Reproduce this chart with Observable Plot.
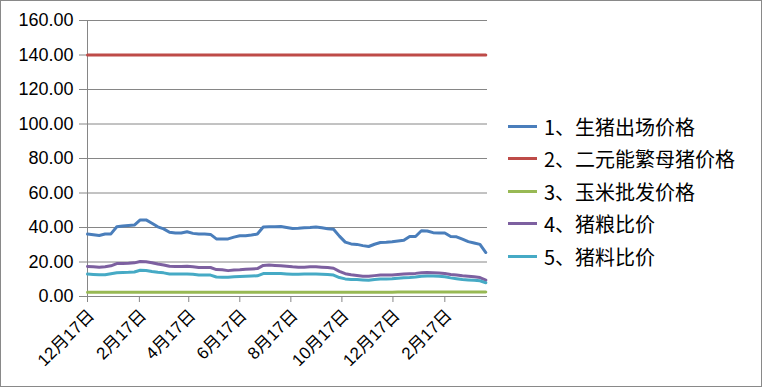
<!DOCTYPE html>
<html>
<head>
<meta charset="utf-8">
<script src="https://cdn.jsdelivr.net/npm/d3@7"></script>
<script src="https://cdn.jsdelivr.net/npm/@observablehq/plot@0.6"></script>
<style>
  body { margin: 0; background: #fff; }
  #wrap { position: relative; width: 762px; height: 387px; overflow: hidden; background: #fff; }
  #border { position: absolute; left: 0; top: 0; width: 762px; height: 387px; box-sizing: border-box; border: 1px solid #898989; pointer-events: none; }
  #chart { position: absolute; left: 0; top: 0; }
  #legend { position: absolute; left: 508px; top: 110px; font-family: "Noto Sans CJK SC", sans-serif; font-size: 20px; color: #000; }
  .row { display: flex; align-items: center; height: 32.5px; }
  .sw { width: 29px; height: 3px; margin-right: 7px; }
</style>
</head>
<body>
<div id="wrap"><div id="chart"></div><div id="legend"></div><div id="border"></div></div>
<script>
const dates = [
  "2012-12-17","2012-12-24","2012-12-31",
  "2013-01-07","2013-01-14","2013-01-21","2013-01-28",
  "2013-02-04","2013-02-11","2013-02-18","2013-02-25",
  "2013-03-04","2013-03-11","2013-03-18","2013-03-25",
  "2013-04-01","2013-04-08","2013-04-15","2013-04-22","2013-04-29",
  "2013-05-06","2013-05-13","2013-05-20","2013-05-27",
  "2013-06-03","2013-06-10","2013-06-17","2013-06-24",
  "2013-07-01","2013-07-08","2013-07-15","2013-07-22","2013-07-29",
  "2013-08-05","2013-08-12","2013-08-19","2013-08-26",
  "2013-09-02","2013-09-09","2013-09-16","2013-09-23","2013-09-30",
  "2013-10-07","2013-10-14","2013-10-21","2013-10-28",
  "2013-11-04","2013-11-11","2013-11-18","2013-11-25",
  "2013-12-02","2013-12-09","2013-12-16","2013-12-23","2013-12-30",
  "2014-01-06","2014-01-13","2014-01-20","2014-01-27",
  "2014-02-03","2014-02-10","2014-02-17","2014-02-24",
  "2014-03-03","2014-03-10","2014-03-17","2014-03-24","2014-03-31",
  "2014-04-07"
];

const seriesNames = ["1、生猪出场价格","2、二元能繁母猪价格","3、玉米批发价格","4、猪粮比价","5、猪料比价"];
const seriesColors = ["#4a7ebb","#be4b48","#98b954","#7d60a0","#46aac5"];

const hogPrice = [
  36.2,35.8,35.4,36.2,36.3,40.4,40.9,41.2,41.4,44.4,44.4,42.5,40.4,39.2,37.2,36.8,36.8,37.5,36.6,36.2,36.2,36.0,33.4,33.4,
  33.4,34.4,35.2,35.2,35.6,36.2,40.3,40.4,40.4,40.6,40.0,39.4,39.5,39.8,40.0,40.3,39.8,39.3,39.0,35.0,31.5,30.5,30.2,
  29.5,29.0,30.3,31.3,31.5,31.8,32.2,32.6,34.8,34.8,38.1,38.0,37.0,36.8,36.8,34.8,34.6,33.2,31.8,31.0,30.2,25.5
];
const sowPrice = [
  140,140,140,140,140,140,140,140,140,140,140,140,140,140,140,140,140,140,140,140,140,140,140,140,
  140,140,140,140,140,140,140,140,140,140,140,140,140,140,140,140,140,140,140,140,140,140,140,
  140,140,140,140,140,140,140,140,140,140,140,140,140,140,140,140,140,140,140,140,140,140
];
const cornPrice = [
  2.45,2.45,2.46,2.46,2.46,2.46,2.45,2.45,2.45,2.44,2.44,2.44,2.44,2.43,2.43,2.43,2.43,2.43,2.42,2.42,2.42,2.42,2.42,2.42,
  2.42,2.42,2.42,2.43,2.43,2.43,2.44,2.44,2.45,2.46,2.47,2.48,2.48,2.48,2.47,2.47,2.46,2.46,2.45,2.45,2.45,2.46,2.47,
  2.48,2.49,2.50,2.51,2.52,2.53,2.54,2.55,2.57,2.58,2.60,2.60,2.61,2.61,2.61,2.60,2.60,2.59,2.58,2.58,2.57,2.56
];
const hogGrainRatio = [
  17.4,17.3,17.0,17.3,17.8,19.1,19.2,19.3,19.5,20.3,20.2,19.6,18.8,18.3,17.5,17.4,17.4,17.5,17.2,16.8,16.8,16.8,15.6,15.5,
  15.0,15.3,15.5,15.8,16.0,16.2,18.0,18.2,18.0,17.8,17.5,17.2,17.0,17.0,17.2,17.2,17.0,16.8,16.4,14.6,13.2,12.6,12.2,
  11.8,11.7,12.1,12.4,12.5,12.5,12.8,13.0,13.2,13.4,13.8,13.9,13.8,13.6,13.3,12.8,12.5,12.0,11.8,11.4,11.0,9.5
];
const hogFeedRatio = [
  13.0,12.8,12.6,12.6,13.2,13.8,13.9,14.0,14.2,15.2,15.1,14.5,14.0,13.7,13.1,13.0,13.0,13.1,12.9,12.5,12.5,12.4,11.3,11.2,
  11.1,11.4,11.6,11.8,11.9,12.0,13.3,13.4,13.4,13.3,13.1,12.9,12.9,13.0,13.0,13.0,12.9,12.7,12.4,11.0,10.2,9.9,9.8,
  9.6,9.4,9.9,10.1,10.2,10.3,10.6,10.8,11.0,11.3,11.8,11.9,11.9,11.7,11.4,10.8,10.3,9.8,9.6,9.4,9.1,8.0
];

const yTicks = [0,20,40,60,80,100,120,140,160];
const xTickDates = ["2012-12-17","2013-02-17","2013-04-17","2013-06-17","2013-08-17","2013-10-17","2013-12-17","2014-02-17"];
const xTickLabels = ["12月17日","2月17日","4月17日","6月17日","8月17日","10月17日","12月17日","2月17日"];
const xDomain = ["2012-12-17","2014-04-09"];

const seriesValues = [hogPrice, sowPrice, cornPrice, hogGrainRatio, hogFeedRatio];
const data = [];
seriesNames.forEach((name, s) => {
  dates.forEach((d, i) => data.push({date: new Date(d), value: seriesValues[s][i], name}));
});
const tickDateObjs = xTickDates.map(d => new Date(d));
const labelMap = new Map(tickDateObjs.map((d, i) => [+d, xTickLabels[i]]));
const gray = "#868686";

const chart = Plot.plot({
  width: 762,
  height: 387,
  marginLeft: 87,
  marginRight: 275,
  marginTop: 20,
  marginBottom: 91,
  style: {fontFamily: "'Liberation Sans', 'Noto Sans CJK SC', sans-serif", color: "#000", background: "transparent", overflow: "visible"},
  x: {type: "utc", domain: xDomain.map(d => new Date(d))},
  y: {domain: [0, 160]},
  color: {domain: seriesNames, range: seriesColors},
  marks: [
    Plot.gridY(yTicks, {stroke: gray, strokeOpacity: 1, strokeWidth: 1}),
    Plot.frame({anchor: "left", stroke: gray}),
    Plot.axisY(yTicks, {tickSize: 8, tickPadding: 6, stroke: gray, fontSize: 18, label: null, tickFormat: d => d.toFixed(2)}),
    Plot.axisX(tickDateObjs, {tickSize: 6, stroke: gray, label: null, tickFormat: () => ""}),
    Plot.axisX(tickDateObjs, {tickSize: 0, tickPadding: 16, tickRotate: -45, fontSize: 17, label: null, dx: 4, tickFormat: d => labelMap.get(+d)}),
    Plot.ruleY([0], {stroke: gray}),
    Plot.lineY(data, {x: "date", y: "value", z: "name", stroke: "name", strokeWidth: 3, strokeLinejoin: "round"})
  ]
});
document.getElementById("chart").appendChild(chart);

const legend = document.getElementById("legend");
seriesNames.forEach((name, i) => {
  const row = document.createElement("div");
  row.className = "row";
  const sw = document.createElement("div");
  sw.className = "sw";
  sw.style.background = seriesColors[i];
  const t = document.createElement("span");
  t.textContent = name;
  row.appendChild(sw);
  row.appendChild(t);
  legend.appendChild(row);
});
</script>
</body>
</html>
